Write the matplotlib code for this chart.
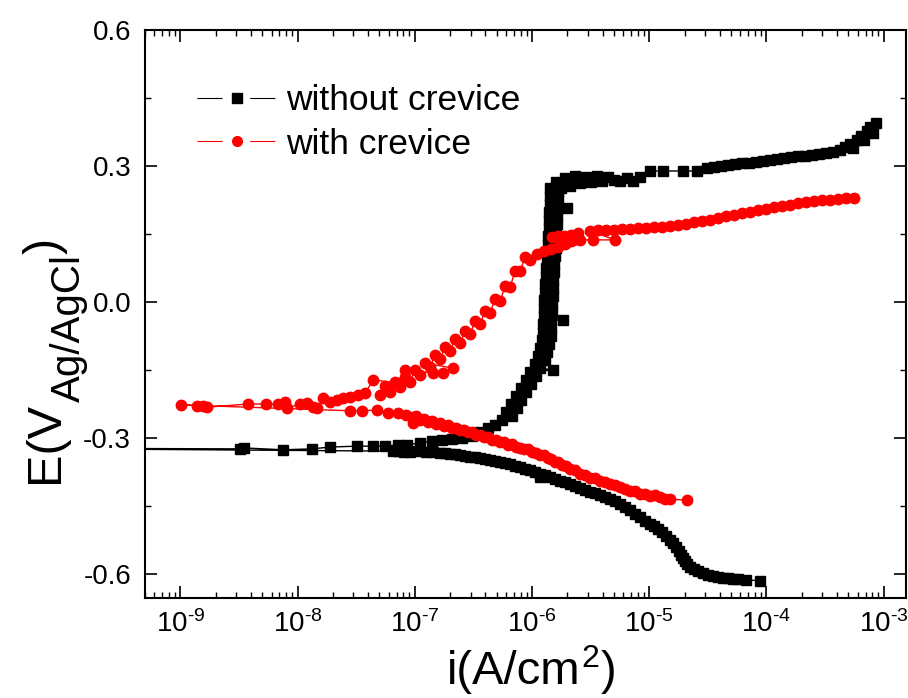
import matplotlib
matplotlib.use("Agg")
import matplotlib.pyplot as plt
import numpy as np
from matplotlib.lines import Line2D
from matplotlib.legend_handler import HandlerTuple
from matplotlib.ticker import LogLocator, NullFormatter

# log10 of current density (A/cm2) and potential (V vs Ag/AgCl), in scan order
black_logi = [
    -4.055, -4.175, -4.243, -4.286, -4.328, -4.371, -4.414, -4.456, -4.499, -4.541,
    -4.584, -4.618, -4.652, -4.678, -4.695, -4.712, -4.729, -4.746, -4.772, -4.797,
    -4.823, -4.857, -4.891, -4.925, -4.959, -4.993, -5.036, -5.078, -5.121, -5.164,
    -5.206, -5.249, -5.292, -5.334, -5.377, -5.419, -5.462, -5.505, -5.547, -5.590,
    -5.633, -5.675, -5.718, -5.760, -5.803, -5.846, -5.888, -5.931, -5.931, -5.974,
    -6.016, -6.059, -6.101, -6.144, -6.187, -6.229, -6.272, -6.315, -6.357, -6.400,
    -6.442, -6.485, -6.528, -6.570, -6.613, -6.656, -6.698, -6.741, -6.783, -6.843,
    -6.903, -6.971, -7.039, -7.090, -7.142, -7.184,
    -11.0,
    -8.489, -8.454, -8.122, -7.875, -7.721, -7.491, -7.355, -7.252, -7.142, -7.065,
    -6.954, -6.852, -6.766, -6.681, -6.596, -6.511, -6.442, -6.374, -6.315,
    -6.255, -6.170, -6.221, -6.127, -6.178, -6.093, -6.136, -6.050, -6.093, -6.008,
    -6.050, -5.965, -6.016, -5.820, -5.931, -5.974, -5.888, -5.948, -5.871, -5.931,
    -5.854, -5.914, -5.837, -5.905, -5.837, -5.905, -5.837, -5.735, -5.897, -5.829,
    -5.897, -5.829, -5.897, -5.820, -5.888, -5.820, -5.888, -5.820, -5.880, -5.812,
    -5.880, -5.812, -5.871, -5.803, -5.871, -5.795, -5.863, -5.795, -5.863, -5.795,
    -5.854, -5.786, -5.854, -5.786, -5.701, -5.854, -5.778, -5.846, -5.778, -5.846,
    -5.778, -5.846, -5.769,
    -5.795, -5.752, -5.718, -5.675, -5.633, -5.590, -5.539, -5.496, -5.445, -5.402,
    -5.351, -5.300, -5.249, -5.189, -5.138, -5.078, -4.993, -4.882, -4.712, -4.593,
    -4.507, -4.448, -4.388, -4.328, -4.269, -4.209, -4.149, -4.090, -4.030, -3.970,
    -3.911, -3.851, -3.791, -3.732, -3.672, -3.612, -3.553, -3.493, -3.433, -3.373,
    -3.331, -3.288, -3.263, -3.229, -3.194, -3.169, -3.143, -3.118, -3.092, -3.067,
]
black_e = [
    -0.615, -0.613, -0.611, -0.611, -0.609, -0.609, -0.607, -0.604, -0.602, -0.598,
    -0.593, -0.589, -0.585, -0.578, -0.571, -0.565, -0.558, -0.549, -0.540, -0.532,
    -0.525, -0.516, -0.507, -0.501, -0.494, -0.490, -0.483, -0.474, -0.468, -0.459,
    -0.452, -0.446, -0.439, -0.435, -0.430, -0.426, -0.421, -0.419, -0.415, -0.410,
    -0.406, -0.401, -0.397, -0.395, -0.390, -0.386, -0.382, -0.386, -0.379, -0.375,
    -0.371, -0.368, -0.364, -0.362, -0.357, -0.355, -0.353, -0.351, -0.349, -0.346,
    -0.344, -0.342, -0.342, -0.340, -0.338, -0.335, -0.335, -0.333, -0.333, -0.331,
    -0.331, -0.329, -0.331, -0.331, -0.329, -0.329,
    -0.322,
    -0.324, -0.322, -0.326, -0.324, -0.320, -0.318, -0.318, -0.318, -0.315, -0.315,
    -0.311, -0.307, -0.304, -0.302, -0.300, -0.296, -0.287, -0.278, -0.271,
    -0.260, -0.251, -0.243, -0.234, -0.225, -0.216, -0.207, -0.199, -0.190, -0.181,
    -0.172, -0.163, -0.154, -0.150, -0.146, -0.137, -0.128, -0.119, -0.110, -0.101,
    -0.093, -0.084, -0.075, -0.066, -0.057, -0.049, -0.040, -0.040, -0.031, -0.022,
    -0.013, -0.004, 0.004, 0.013, 0.022, 0.031, 0.040, 0.049, 0.057, 0.066,
    0.075, 0.084, 0.093, 0.101, 0.110, 0.119, 0.128, 0.137, 0.146, 0.154,
    0.163, 0.172, 0.181, 0.190, 0.207, 0.199, 0.207, 0.216, 0.225, 0.234,
    0.243, 0.251, 0.260,
    0.265, 0.251, 0.274, 0.256, 0.278, 0.262, 0.276, 0.265, 0.278, 0.267,
    0.276, 0.269, 0.267, 0.274, 0.267, 0.276, 0.289, 0.289, 0.289, 0.289,
    0.296, 0.298, 0.300, 0.302, 0.304, 0.307, 0.307, 0.309, 0.311, 0.313,
    0.315, 0.318, 0.320, 0.322, 0.322, 0.324, 0.326, 0.329, 0.331, 0.335,
    0.342, 0.349, 0.340, 0.357, 0.366, 0.357, 0.377, 0.386, 0.373, 0.395,
]

red_logi = [
    -4.678, -4.823, -4.865, -4.908, -4.951, -4.993, -5.036, -5.078, -5.121, -5.164,
    -5.206, -5.249, -5.292, -5.334, -5.377, -5.419, -5.462, -5.505, -5.547, -5.590,
    -5.633, -5.675, -5.709, -5.743, -5.778, -5.803, -5.837, -5.863, -5.897, -5.931,
    -5.965, -5.999, -6.033, -6.067, -6.101, -6.136, -6.170, -6.204, -6.238, -6.272,
    -6.306, -6.340, -6.374, -6.408, -6.442, -6.477, -6.511, -6.545, -6.579, -6.613,
    -6.647, -6.681, -6.715, -6.749, -6.783, -6.818, -6.852, -6.886, -6.920, -6.954,
    -6.988, -7.014, -7.014, -7.073, -7.142, -7.227, -7.321, -7.448, -7.551,
    -8.991,
    -8.855, -8.804, -8.770, -8.420, -8.267, -8.165, -8.105, -8.088, -7.977, -7.917,
    -7.866, -7.832, -7.781, -7.721, -7.662, -7.610, -7.551, -7.483, -7.423, -7.355,
    -7.124,
    -7.295, -7.252, -7.210, -7.167, -7.124, -7.082, -7.039, -6.997, -6.954, -7.082,
    -6.843, -6.758, -6.673, -6.911, -6.869, -6.826, -6.783, -6.741, -6.698, -6.656,
    -6.613, -6.570, -6.528, -6.485, -6.442, -6.400, -6.357, -6.315, -6.272, -6.229,
    -6.187, -6.144, -6.101, -6.059, -6.016,
    -5.957, -5.897, -5.837, -5.778, -5.718, -5.667, -5.829, -5.778, -5.726, -5.667,
    -5.607, -5.650, -5.590, -5.479, -5.292,
    -5.505, -5.437, -5.368, -5.300, -5.232, -5.164, -5.096, -5.027, -4.959, -4.891,
    -4.823, -4.755, -4.686, -4.618, -4.550, -4.482, -4.414, -4.345, -4.277, -4.209,
    -4.141, -4.073, -4.004, -3.936, -3.868, -3.800, -3.732, -3.663, -3.595, -3.527,
    -3.459, -3.391, -3.322, -3.254,
]
red_e = [
    -0.437, -0.435, -0.435, -0.430, -0.426, -0.428, -0.424, -0.424, -0.417, -0.417,
    -0.413, -0.408, -0.404, -0.401, -0.397, -0.395, -0.388, -0.388, -0.382, -0.379,
    -0.371, -0.368, -0.362, -0.360, -0.353, -0.353, -0.346, -0.344, -0.338, -0.338,
    -0.333, -0.331, -0.324, -0.324, -0.322, -0.320, -0.313, -0.315, -0.309, -0.309,
    -0.304, -0.304, -0.298, -0.298, -0.293, -0.293, -0.287, -0.287, -0.282, -0.282,
    -0.278, -0.278, -0.271, -0.274, -0.267, -0.269, -0.262, -0.265, -0.258, -0.260,
    -0.251, -0.254, -0.267, -0.249, -0.245, -0.245, -0.238, -0.240, -0.240,
    -0.227,
    -0.229, -0.229, -0.232, -0.225, -0.225, -0.225, -0.221, -0.234, -0.225, -0.223,
    -0.232, -0.234, -0.212, -0.221, -0.216, -0.212, -0.210, -0.205, -0.201, -0.172,
    -0.179,
    -0.205, -0.185, -0.199, -0.176, -0.188, -0.165, -0.176, -0.150, -0.161, -0.150,
    -0.157, -0.157, -0.146, -0.135, -0.143, -0.117, -0.126, -0.099, -0.108, -0.082,
    -0.090, -0.064, -0.071, -0.042, -0.049, -0.020, -0.024, 0.007, 0.002, 0.035,
    0.033, 0.068, 0.068, 0.099, 0.093,
    0.106, 0.113, 0.117, 0.121, 0.128, 0.135, 0.143, 0.146, 0.146, 0.148,
    0.152, 0.137, 0.137, 0.137, 0.137,
    0.157, 0.159, 0.159, 0.159, 0.161, 0.161, 0.163, 0.163, 0.165, 0.165,
    0.168, 0.170, 0.172, 0.176, 0.179, 0.181, 0.185, 0.190, 0.192, 0.196,
    0.199, 0.203, 0.205, 0.210, 0.212, 0.214, 0.218, 0.220, 0.222, 0.224,
    0.226, 0.228, 0.229, 0.230,
]

x_major = [1e-9, 1e-8, 1e-7, 1e-6, 1e-5, 1e-4, 1e-3]
# short hyphen in the exponent, as in the original
x_labels = ["$\\mathregular{10^{\u2010%d}}$" % -e for e in range(-9, -2)]
y_major = [-0.6, -0.3, 0.0, 0.3, 0.6]
y_minor = [-0.45, -0.15, 0.15, 0.45]
y_labels = ["-0.6", "-0.3", "0.0", "0.3", "0.6"]
series_names = ["without crevice", "with crevice"]

plt.rcParams["font.family"] = ["Liberation Sans", "DejaVu Sans"]
plt.rcParams["mathtext.fontset"] = "custom"
plt.rcParams["mathtext.rm"] = "Liberation Sans"
plt.rcParams["mathtext.it"] = "Liberation Sans:italic"
plt.rcParams["mathtext.bf"] = "Liberation Sans:bold"

W, H = 908, 698
fig = plt.figure(figsize=(W / 100, H / 100), dpi=100)
ax = fig.add_axes([145 / W, 1 - 598 / H, 761 / W, 568 / H])

ax.plot(10 ** np.array(black_logi), black_e, color="black", lw=1.0,
        marker="s", ms=7, mfc="black", mec="black", zorder=2)
ax.plot(10 ** np.array(red_logi), red_e, color="red", lw=1.0,
        marker="o", ms=7.5, mfc="red", mec="red", zorder=3)

ax.set_xscale("log")
ax.set_xlim(5.0e-10, 1.55e-3)
ax.set_ylim(-0.653, 0.6)

ax.set_xticks(x_major, labels=x_labels)
ax.xaxis.set_minor_locator(LogLocator(base=10, subs=np.arange(2, 10), numticks=20))
ax.xaxis.set_minor_formatter(NullFormatter())
ax.set_yticks(y_major, labels=y_labels)
ax.set_yticks(y_minor, minor=True)

ax.tick_params(which="major", direction="in", length=8.5, width=1.2,
               top=True, right=True)
ax.tick_params(which="minor", direction="in", length=4.5, width=1.0,
               top=True, right=True)
ax.tick_params(axis="y", pad=10, labelsize=20)
ax.tick_params(axis="x", pad=9, labelsize=20)
for s in ax.spines.values():
    s.set_linewidth(1.5)

# legend: line - marker - line, like the original
h_black = (Line2D([0], [0], color="black", lw=0.8, dashes=(22.5, 25)),
           Line2D([0], [0], ls="none", marker="s", ms=6.5, color="black"))
h_red = (Line2D([0], [0], color="red", lw=0.8, dashes=(22.5, 25)),
         Line2D([0], [0], ls="none", marker="o", ms=7, color="red"))
ax.legend([h_black, h_red], series_names, handler_map={tuple: HandlerTuple(ndivide=1, pad=0)},
          loc="upper left", bbox_to_anchor=(0.068, 0.905), frameon=False,
          fontsize=25.5, handlelength=2.25, handletextpad=0.28, labelspacing=0.3,
          borderpad=0, borderaxespad=0, numpoints=1)

# axis titles built from pieces (sub/superscripts sized like the original)
fig.canvas.draw()
r = fig.canvas.get_renderer()

y0 = (H - 483) / H
t1 = fig.text(58 / W, y0, "E(V", rotation=90, rotation_mode="anchor",
              ha="left", va="baseline", fontsize=35)
h1 = t1.get_window_extent(renderer=r).height / H
t2 = fig.text(80 / W, y0 + h1, "Ag/AgCl", rotation=90, rotation_mode="anchor",
              ha="left", va="baseline", fontsize=29)
h2 = t2.get_window_extent(renderer=r).height / H
fig.text(58 / W, y0 + h1 + h2, ")", rotation=90, rotation_mode="anchor",
         ha="left", va="baseline", fontsize=35)

xb = (H - 684) / H
u1 = fig.text(447 / W, xb, "i(A/cm", ha="left", va="baseline", fontsize=34)
w1 = u1.get_window_extent(renderer=r).width / W
u2 = fig.text(447 / W + w1 + 1 / W, xb + 17 / H, "2", ha="left", va="baseline", fontsize=23)
w2 = u2.get_window_extent(renderer=r).width / W
fig.text(447 / W + w1 + w2 + 2 / W, xb, ")", ha="left", va="baseline", fontsize=34)

fig.savefig("out.png", dpi=100)
